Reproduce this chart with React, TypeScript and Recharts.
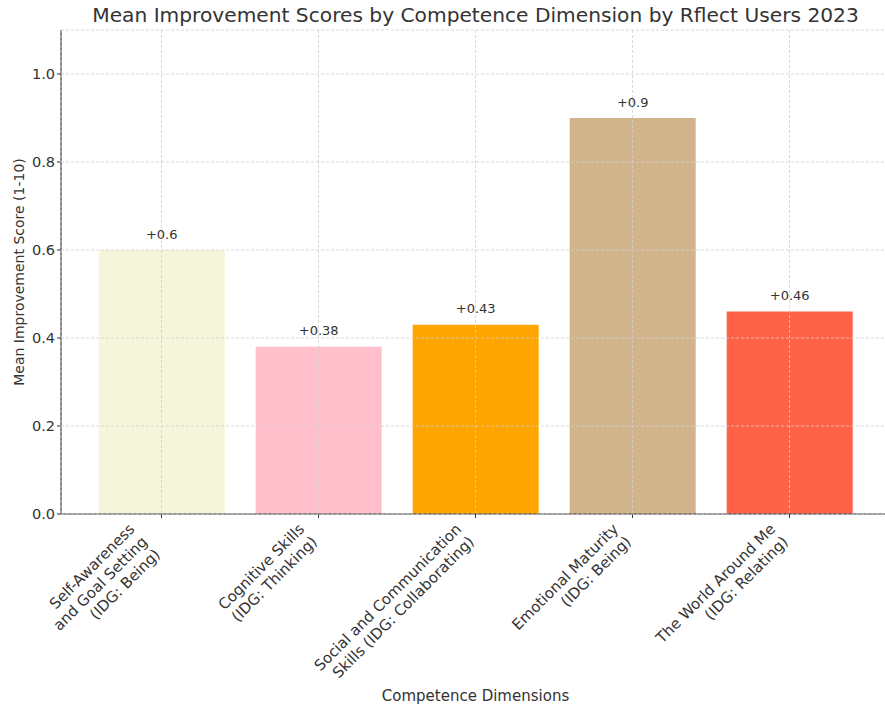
import React from 'react';
import { BarChart, Bar, XAxis, YAxis, CartesianGrid, Cell, LabelList } from 'recharts';

const categories = [
  'Self-Awareness\nand Goal Setting\n(IDG: Being)',
  'Cognitive Skills\n(IDG: Thinking)',
  'Social and Communication\nSkills (IDG: Collaborating)',
  'Emotional Maturity\n(IDG: Being)',
  'The World Around Me\n(IDG: Relating)',
];
const scores = [0.6, 0.38, 0.43, 0.9, 0.46];
const barColors = ['#F5F5DC', '#FFC0CB', '#FFA500', '#D2B48C', '#FF6347'];
const yTicks = [0, 0.2, 0.4, 0.6, 0.8, 1.0];

const data = categories.map((c, i) => ({ name: c, score: scores[i] }));

const FONT = '"DejaVu Sans", sans-serif';
const TEXT = '#333333';

const RotatedTick = (props: any) => {
  const { x, y, payload } = props;
  const lines: string[] = String(payload.value).split('\n');
  const fs = 15;
  const lh = 18;
  const n = lines.length;
  const shiftX = 0.707 * ((n - 1) * lh + 12);
  return (
    <g transform={`translate(${x - shiftX},${y})`}>
      <text
        transform="rotate(-45)"
        textAnchor="end"
        fontSize={fs}
        fontFamily={FONT}
        fill={TEXT}
      >
        {lines.map((l, i) => (
          <tspan key={i} x={0} y={11.3 + i * lh}>
            {l}
          </tspan>
        ))}
      </text>
    </g>
  );
};

const ValueLabel = (props: any) => {
  const { x, y, width, value } = props;
  return (
    <text
      x={x + width / 2}
      y={y - 11.5}
      textAnchor="middle"
      fontSize={13}
      fontFamily={FONT}
      fill={TEXT}
    >
      {'+' + value}
    </text>
  );
};

const YLabel = (props: any) => {
  const { viewBox } = props;
  const cy = viewBox.y + viewBox.height / 2;
  const cx = 24;
  return (
    <text
      x={cx}
      y={cy}
      transform={`rotate(-90, ${cx}, ${cy})`}
      textAnchor="middle"
      fontSize={14}
      fontFamily={FONT}
      fill={TEXT}
    >
      Mean Improvement Score (1-10)
    </text>
  );
};

export default function App() {
  return (
    <div
      style={{
        position: 'absolute',
        left: 0,
        top: 0,
        width: 885,
        height: 704,
        overflow: 'hidden',
        background: '#fff',
        fontFamily: FONT,
      }}
    >
      <div
        style={{
          position: 'absolute',
          left: 61,
          width: 829,
          top: 4,
          textAlign: 'center',
          fontSize: 20.2,
          lineHeight: '22px',
          color: TEXT,
          whiteSpace: 'nowrap',
        }}
      >
        Mean Improvement Scores by Competence Dimension by Rflect Users 2023
      </div>
      <BarChart
        width={890}
        height={704}
        data={data}
        margin={{ top: 30, right: 0, left: 0, bottom: 0 }}
        barCategoryGap="10%"
      >
        <XAxis
          dataKey="name"
          interval={0}
          height={190}
          padding={{ left: 22, right: 22 }}
          tick={<RotatedTick />}
          tickSize={4}
          tickMargin={4}
          axisLine={{ stroke: '#333', strokeWidth: 1.2 }}
          tickLine={{ stroke: '#333' }}
        />
        <YAxis
          type="number"
          domain={[0, 1.1]}
          ticks={yTicks}
          width={61}
          tickFormatter={(v: number) => v.toFixed(1)}
          tick={{ fontSize: 14.5, fontFamily: FONT, fill: TEXT }}
          tickSize={4}
          tickMargin={2}
          axisLine={{ stroke: '#333', strokeWidth: 1.2 }}
          tickLine={{ stroke: '#333' }}
          label={<YLabel />}
        />
        <Bar dataKey="score" isAnimationActive={false}>
          {data.map((d, i) => (
            <Cell key={i} fill={barColors[i]} />
          ))}
          <LabelList dataKey="score" content={<ValueLabel />} />
        </Bar>
        <CartesianGrid
          stroke="#cfcfcf"
          strokeDasharray="3 2"
          strokeWidth={0.8}
          {...({ zIndex: 500 } as any)}
        />
      </BarChart>
      <div
        style={{
          position: 'absolute',
          left: 61,
          width: 829,
          top: 688,
          textAlign: 'center',
          fontSize: 15,
          lineHeight: '17px',
          color: TEXT,
        }}
      >
        Competence Dimensions
      </div>
    </div>
  );
}
